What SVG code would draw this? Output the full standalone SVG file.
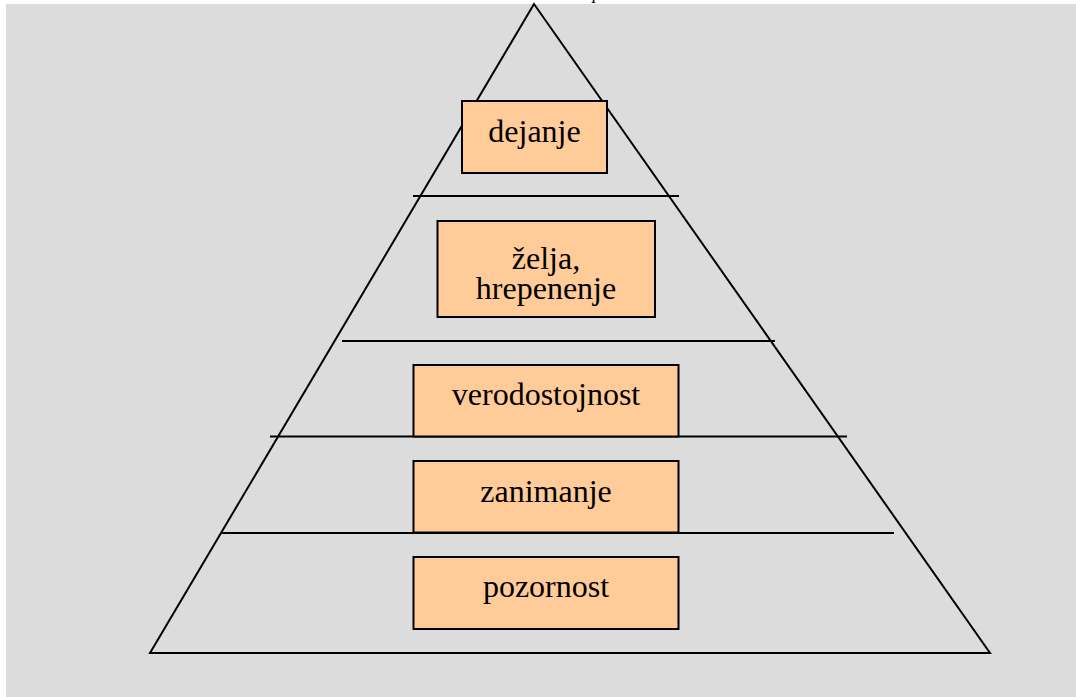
<svg xmlns="http://www.w3.org/2000/svg" width="1076" height="697" viewBox="0 0 1076 697">
<style>
.box{fill:#ffcc99;stroke:#000;stroke-width:2}
.ln{stroke:#000;stroke-width:2;fill:none}
.t{font-family:"Liberation Serif","Times New Roman",serif;font-size:32px;fill:#000;text-anchor:middle}
</style>
<rect x="0" y="0" width="1076" height="697" fill="#fff"/>
<rect x="6" y="4" width="1070" height="693" fill="#dcdcdc"/>
<text x="597" y="-1" font-family="Liberation Serif, serif" font-style="italic" font-size="18" text-anchor="middle">p</text>
<g id="connectors">
<polygon class="ln" points="534,4 150,653 990,653"/>
<line class="ln" x1="413" y1="196" x2="679" y2="196"/>
<line class="ln" x1="342" y1="341" x2="775" y2="341"/>
<line class="ln" x1="270" y1="436.5" x2="847" y2="436.5"/>
<line class="ln" x1="221" y1="533" x2="894" y2="533"/>
</g>
<g id="dejanje">
<rect class="box" x="462" y="101" width="145" height="72"/>
<text class="t" x="534.5" y="142">dejanje</text>
</g>
<g id="zelja">
<rect class="box" x="437.5" y="221" width="217.5" height="96"/>
<text class="t" x="546" y="269">želja,</text>
<text class="t" x="546" y="299">hrepenenje</text>
</g>
<g id="verodostojnost">
<rect class="box" x="413.5" y="365" width="265" height="71.5"/>
<text class="t" x="546" y="405">verodostojnost</text>
</g>
<g id="zanimanje">
<rect class="box" x="413.5" y="461" width="265" height="71.5"/>
<text class="t" x="546" y="501.5">zanimanje</text>
</g>
<g id="pozornost">
<rect class="box" x="413.5" y="557" width="265" height="72"/>
<text class="t" x="546" y="597">pozornost</text>
</g>
</svg>
